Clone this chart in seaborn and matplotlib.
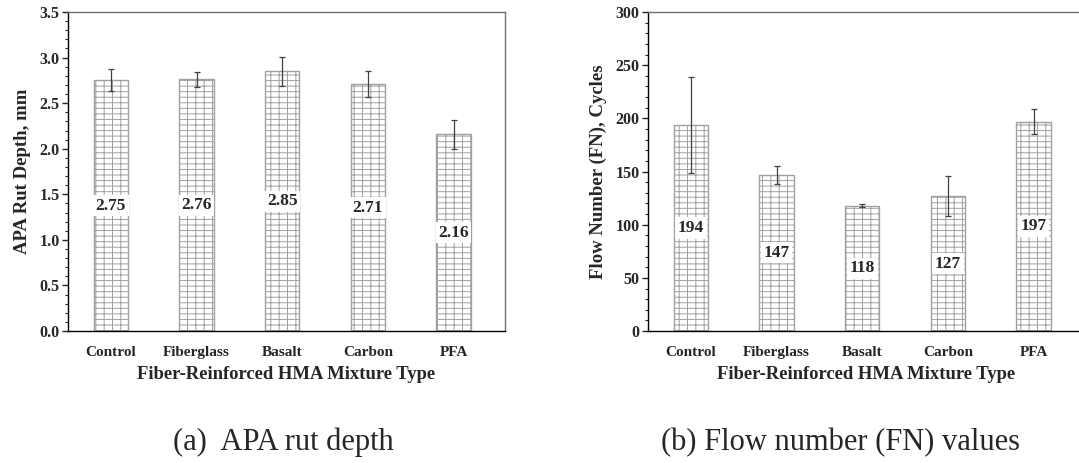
import matplotlib
matplotlib.use("Agg")
import matplotlib.pyplot as plt
from matplotlib.ticker import MultipleLocator
import seaborn as sns
import pandas as pd

mixtures = ["Control", "Fiberglass", "Basalt", "Carbon", "PFA"]
rut_depth = [2.75, 2.76, 2.85, 2.71, 2.16]
rut_err = [0.12, 0.085, 0.16, 0.14, 0.16]
flow_number = [194, 147, 118, 127, 197]
flow_err = [45, 8.5, 1.5, 19, 11.5]

sns.set_theme(style="ticks")
plt.rcParams['font.family'] = ['Liberation Serif', 'DejaVu Serif']
plt.rcParams['hatch.linewidth'] = 0.7

fig = plt.figure(figsize=(10.79, 4.63), dpi=100)
ax1 = fig.add_axes([0.063, 0.285, 0.405, 0.689])
ax2 = fig.add_axes([0.6006, 0.285, 0.405, 0.689])


def draw(ax, vals, errs, ylabel, ymax, major, minor, fmt):
    df = pd.DataFrame({"mix": mixtures, "val": vals})
    sns.barplot(data=df, x="mix", y="val", color="white", width=0.4,
                edgecolor="#a0a0a0", linewidth=1.0, ax=ax)
    for p in ax.patches:
        p.set_hatch("---||")
    xs = ax.get_xticks()
    ax.errorbar(xs, vals, yerr=errs, fmt="none", ecolor="#404040",
                elinewidth=0.9, capsize=2, capthick=0.9)
    for x, v in zip(xs, vals):
        ax.text(x, v / 2, fmt.format(v), ha="center", va="center",
                fontsize=12.5, fontweight="bold",
                bbox=dict(boxstyle="square,pad=0.15", fc="white", ec="none"))
    ax.set_ylim(0, ymax)
    ax.set_xlim(-0.5, 4.6)
    ax.yaxis.set_major_locator(MultipleLocator(major))
    ax.yaxis.set_minor_locator(MultipleLocator(minor))
    ax.tick_params(axis="y", which="major", length=4, width=1, labelsize=11.5, pad=2)
    ax.tick_params(axis="y", which="minor", length=2.5, width=0.8)
    ax.tick_params(axis="x", length=0, labelsize=11, pad=11)
    for lab in ax.get_xticklabels() + ax.get_yticklabels():
        lab.set_fontweight("bold")
    ax.set_ylabel(ylabel, fontsize=13.5, fontweight="bold", labelpad=6)
    ax.set_xlabel("Fiber-Reinforced HMA Mixture Type", fontsize=13.4,
                  fontweight="bold", labelpad=5)
    for s in ax.spines.values():
        s.set_linewidth(1.0)
        s.set_color("black")
    ax.spines["top"].set_color("#707070")
    ax.spines["right"].set_color("#707070")


draw(ax1, rut_depth, rut_err, "APA Rut Depth, mm", 3.5, 0.5, 0.1, "{:.2f}")
draw(ax2, flow_number, flow_err, "Flow Number (FN), Cycles", 300, 50, 10, "{:.0f}")

fig.text(0.263, 0.028, "(a)  APA rut depth", ha="center", va="baseline", fontsize=22)
fig.text(0.779, 0.028, "(b) Flow number (FN) values", ha="center", va="baseline", fontsize=22)

fig.savefig("out.png", dpi=100)
